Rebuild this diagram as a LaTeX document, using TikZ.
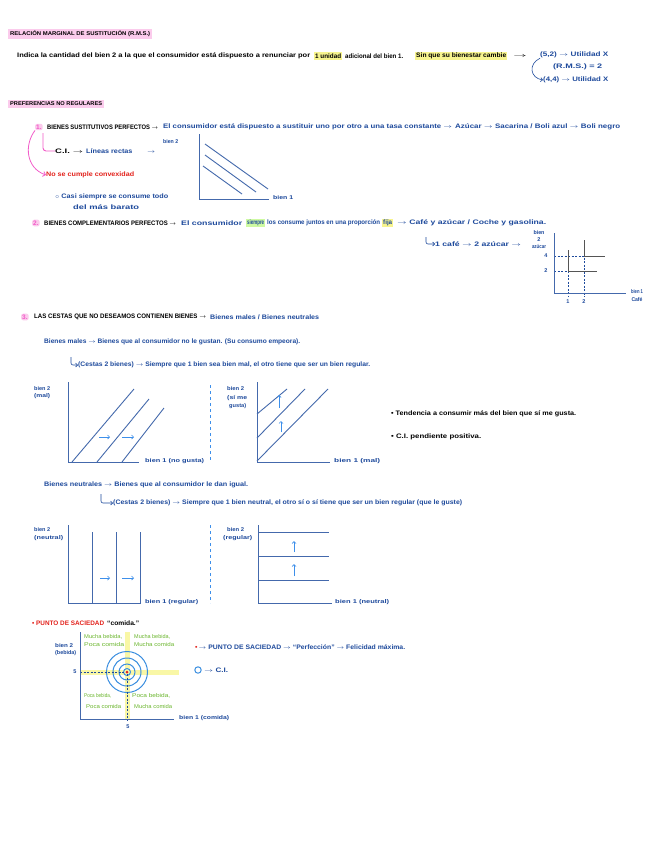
\documentclass[tikz,border=0pt]{standalone}
\usepackage{fontspec}
\setmainfont{Liberation Sans}
\usepackage{graphicx}
\usetikzlibrary{arrows.meta}
\definecolor{tblue}{HTML}{1E4A9C}
\definecolor{gblue}{HTML}{4469AC}
\definecolor{lblue}{HTML}{3D8FEA}
\definecolor{cblue}{HTML}{3A8EE0}
\definecolor{pinkm}{HTML}{F25CC9}
\definecolor{pinkhl}{HTML}{FBCBEC}
\definecolor{redt}{HTML}{E3221C}
\definecolor{greent}{HTML}{69B52B}
\definecolor{yelhl}{HTML}{F7F48E}
\definecolor{yelband}{HTML}{F9F7A6}
\definecolor{lgray}{HTML}{555555}
\newcommand\fw[2]{\resizebox{#1pt}{\height}{#2}}
\newcommand\ar{\ensuremath{\rightarrow}}
\newcommand\fsz{\fontsize{6.5}{7.5}\selectfont\bfseries}
\newcommand\hsz{\fontsize{5.5}{6.5}\selectfont\bfseries}
\newcommand\ssz{\fontsize{5.5}{6.5}\selectfont\bfseries}
\newcommand\gsz{\fontsize{5.5}{6.5}\selectfont}
\tikzset{
 tx/.style={anchor=west, inner sep=0pt, font=\fsz},
 bk/.style={tx, text=black},
 bl/.style={tx, text=tblue},
 rd/.style={tx, text=redt},
 gr/.style={tx, text=greent, font=\gsz},
 nm/.style={tx, text=pinkm, fill=pinkhl, rounded corners=2pt, inner sep=1pt},
 hlt/.style={fill=yelhl, inner xsep=1pt, inner ysep=1.2pt},
 hd/.style={tx, text=black, font=\hsz, fill=pinkhl, inner xsep=2pt, inner ysep=2pt},
 ax/.style={draw=gblue, line width=0.9pt},
 gl/.style={draw=gblue, line width=0.9pt},
 la/.style={draw=lblue, line width=0.7pt, -{Straight Barb[length=2pt]}},
 hookar/.style={draw=tblue, line width=0.6pt, rounded corners=2pt, -{Straight Barb[length=2pt]}},
 lab/.style={tx, font=\ssz, text=tblue},
 labc/.style={anchor=center, inner sep=0pt, font=\ssz, text=tblue},
 dsh/.style={draw=tblue, dashed, dash pattern=on 2pt off 1.5pt, line width=0.6pt},
 lsh/.style={draw=lgray, line width=1pt},
}
\begin{document}
\begin{tikzpicture}[x=1pt,y=-1pt]
\useasboundingbox (0,0) rectangle (656,848);
\fill[white] (0,0) rectangle (656,848);

% ---------- R.M.S.
\node[hd] (h1) at (8,34) {\fw{140}{RELACIÓN MARGINAL DE SUSTITUCIÓN (R.M.S.)}};
\node[bk] (l1a) at (17,56) {\fw{293}{Indica la cantidad del bien 2 a la que el consumidor está dispuesto a renunciar por}};
\node[bk, hlt] (l1b) at (314,56) {\fw{26}{1 unidad}};
\node[bk] (l1c) at (345,56) {\fw{58}{adicional del bien 1.}};
\node[bk, hlt] (l1d) at (415,56) {\fw{90}{Sin que su bienestar cambie}};
\node[bk] (l1e) at (513,56) {\fw{14}{\ar}};
\node[bl] (u1) at (540,55) {\fw{68}{(5,2) \ar{} Utilidad X}};
\node[bl] (u2) at (553,67) {\fw{49}{(R.M.S.) = 2}};
\node[bl] (u3) at (543,80) {\fw{65}{(4,4) \ar{} Utilidad X}};
\draw[tblue, line width=0.6pt, -{Straight Barb[length=2pt]}] (u1.south west) .. controls (528,64) and (530,78) .. (u3.west);

% ---------- Preferencias no regulares
\node[hd] (h2) at (8,104) {\fw{92}{PREFERENCIAS NO REGULARES}};

\node[nm] (n1) at (35,127) {1.};
\node[bk] (s1a) at (47,127) {\fw{111}{BIENES SUSTITUTIVOS PERFECTOS \ar}};
\node[bl] (s1b) at (163,127) {\fw{289}{El consumidor está dispuesto a sustituir uno por otro a una tasa constante \ar}};
\node[bl] (s1c) at (455,127) {\fw{165}{Azúcar \ar{} Sacarina / Boli azul \ar{} Boli negro}};
\node[bk] (ci) at (55,151) {\fw{28}{C.I. \ar}};
\node[bl] (ci2) at (86,151) {\fw{69}{Líneas rectas\qquad\ar}};
\coordinate (pk1) at (43,133);
\draw[pinkm, line width=0.9pt, rounded corners=3pt] (pk1) |- (ci.west);
\node[rd] (nc) at (46,175) {\fw{88}{No se cumple convexidad}};
\draw[pinkm, line width=0.8pt, -{Straight Barb[length=2.5pt]}] (n1.south west) .. controls (24,145) and (26,168) .. (nc.west);
\node[bl] (cs1) at (55,197) {\fw{113}{$\circ$ Casi siempre se consume todo}};
\node[bl] (cs2) at (73,207) {\fw{66}{del más barato}};

% graph 1
\node[lab] (g1y) at (163,142) {\fw{15}{bien 2}};
\node[lab] (g1x) at (273,198) {\fw{20}{bien 1}};
\draw[ax] (199,134) -- (199,199) -- (269,199);
\draw[gl] (205,144) -- (268,189);
\draw[gl] (205,155) -- (256,192);
\draw[gl] (203,166) -- (242,194);

% ---------- 2
\node[nm] (n2) at (32,223) {2.};
\node[bk] (s2a) at (44,223) {\fw{132}{BIENES COMPLEMENTARIOS PERFECTOS \ar}};
\node[bl] (s2b) at (181,223) {\fw{61}{El consumidor}};
\node[bl, hlt, fill=yelhl!70!green!60] (s2c) at (246,223) {\fw{17}{siempre}};
\node[bl] (s2d) at (267,223) {\fw{113}{los consume juntos en una proporción}};
\node[bl, hlt] (s2e) at (382,223) {\fw{9}{fija}};
\node[bl] (s2f) at (397,223) {\fw{149}{\ar{} Café y azúcar / Coche y gasolina.}};
\node[bl] (s2g) at (435,244) {\fw{86}{1 café \ar{} 2 azúcar \ar}};
\coordinate (hk2) at (426,237);
\draw[hookar] (hk2) |- (s2g.west);

% graph 2
\node[labc] (g2y1) at (539,233) {\fw{11}{bien}};
\node[labc] (g2y2) at (539,240) {2};
\node[labc] (g2y3) at (539,247) {\fw{14}{azúcar}};
\node[labc] (g2x1) at (637,292) {\fw{12}{bien 1}};
\node[labc] (g2x2) at (637,300) {\fw{11}{Café}};
\node[labc] (t4) at (546,256) {4};
\node[labc] (t2) at (546,271) {2};
\node[labc] (t1x) at (568,302) {1};
\node[labc] (t2x) at (584,302) {2};
\draw[dsh] (554,256) -- (584,256) -- (584,297);
\draw[dsh] (554,271) -- (568,271) -- (568,297);
\draw[lsh] (568,250) -- (568,271) -- (597,271);
\draw[lsh] (584,240) -- (584,256) -- (605,256);
\draw[ax] (554,233) -- (554,293) -- (626,293);

% ---------- 3
\node[nm] (n3) at (21,317) {3.};
\node[bk] (s3a) at (34,317) {\fw{172}{LAS CESTAS QUE NO DESEAMOS CONTIENEN BIENES \ar}};
\node[bl] (s3b) at (210,317) {\fw{109}{Bienes males / Bienes neutrales}};
\node[bl] (bm) at (44,342) {\fw{256}{Bienes males \ar{} Bienes que al consumidor no le gustan. (Su consumo empeora).}};
\node[bl] (bm2) at (78,365) {\fw{292}{(Cestas 2 bienes) \ar{} Siempre que 1 bien sea bien mal, el otro tiene que ser un bien regular.}};
\coordinate (hk3) at (71,357);
\draw[hookar] (hk3) |- (bm2.west);

% graphs row 1
\node[lab] (g3y1) at (34,389) {\fw{16}{bien 2}};
\node[lab] (g3y2) at (34,396) {\fw{16}{(mal)}};
\node[lab] (g3x) at (145,461) {\fw{59}{bien 1 (no gusta)}};
\draw[ax] (68,382) -- (68,462) -- (139,462);
\draw[gl] (72,462) -- (134,389);
\draw[gl] (97,462) -- (149,399);
\draw[gl] (122,462) -- (164,408);
\draw[la] (99,437) -- (110,437);
\draw[la] (122,437) -- (134,437);
\draw[lblue, dashed, line width=0.7pt] (210,385) -- (210,462);

\node[lab] (g4y1) at (227,389) {\fw{17}{bien 2}};
\node[lab] (g4y2) at (227,398) {\fw{20}{(sí me}};
\node[lab] (g4y3) at (229,406) {\fw{17}{gusta)}};
\node[lab] (g4x) at (334,461) {\fw{46}{bien 1 (mal)}};
\draw[ax] (257,382) -- (257,462) -- (330,462);
\draw[gl] (257,461) -- (328,389);
\draw[gl] (257,438) -- (305,389);
\draw[gl] (257,414) -- (287,389);
\draw[la] (279,408) -- (279,395);
\draw[la] (281,432) -- (281,421);

\node[bk] (b1) at (391,414) {\fw{185}{• Tendencia a consumir más del bien que sí me gusta.}};
\node[bk] (b2) at (391,437) {\fw{90}{• C.I. pendiente positiva.}};

% neutrales
\node[bl] (bn) at (44,485) {\fw{204}{Bienes neutrales \ar{} Bienes que al consumidor le dan igual.}};
\node[bl] (bn2) at (113,503) {\fw{349}{(Cestas 2 bienes) \ar{} Siempre que 1 bien neutral, el otro sí o sí tiene que ser un bien regular (que le guste)}};
\coordinate (hk4) at (101,494);
\draw[hookar] (hk4) |- (bn2.west);

% graphs row 2
\node[lab] (g5y1) at (34,530) {\fw{16}{bien 2}};
\node[lab] (g5y2) at (34,538) {\fw{29}{(neutral)}};
\node[lab] (g5x) at (145,602) {\fw{53}{bien 1 (regular)}};
\draw[ax] (68,525) -- (68,603) -- (141,603);
\draw[gl] (92,532) -- (92,603);
\draw[gl] (116,532) -- (116,603);
\draw[gl] (140,532) -- (140,603);
\draw[la] (100,578) -- (110,578);
\draw[la] (122,578) -- (134,578);
\draw[lblue, dashed, line width=0.7pt] (210,525) -- (210,603);

\node[lab] (g6y1) at (227,530) {\fw{17}{bien 2}};
\node[lab] (g6y2) at (223,538) {\fw{29}{(regular)}};
\node[lab] (g6x) at (335,602) {\fw{54}{bien 1 (neutral)}};
\draw[ax] (258,525) -- (258,603) -- (332,603);
\draw[gl] (258,532) -- (329,532);
\draw[gl] (258,556) -- (329,556);
\draw[gl] (258,580) -- (329,580);
\draw[la] (294,552) -- (294,541);
\draw[la] (294,576) -- (294,564);

% ---------- saciedad
\node[rd] (ps) at (32,623) {\fw{72}{• PUNTO DE SACIEDAD}};
\node[bk] (psc) at (107,623) {\fw{32}{“comida.”}};

\fill[yelband] (80,669.5) rectangle (179,674.5);
\fill[yelband] (124.5,632) rectangle (129.5,719);
\node[gr] (q1a) at (84,637) {\fw{38}{Mucha bebida,}};
\node[gr] (q1b) at (84,645) {\fw{40}{Poca comida}};
\node[gr] (q2a) at (134,637) {\fw{36}{Mucha bebida,}};
\node[gr] (q2b) at (134,645) {\fw{40}{Mucha comida}};
\node[gr] (q3a) at (84,696) {\fw{27}{Poca bebida,}};
\node[gr] (q3b) at (86,707) {\fw{35}{Poca comida}};
\node[gr] (q4a) at (132,696) {\fw{38}{Poca bebida,}};
\node[gr] (q4b) at (134,707) {\fw{38}{Mucha comida}};
\draw[cblue, line width=1pt] (127,672) circle (20.5);
\draw[cblue, line width=1pt] (127,672) circle (14);
\draw[cblue, line width=1pt] (127,672) circle (8);
\draw[cblue, line width=1pt] (127,672) circle (3.5);
\draw[dsh] (80,672) -- (127,672) -- (127,721);
\fill[redt] (127,672) circle (1.5);
\node[labc] (s5y) at (75,672) {5};
\node[labc] (s5x) at (128,727) {5};
\node[lab] (g7y1) at (55,646) {\fw{18}{bien 2}};
\node[lab] (g7y2) at (55,653) {\fw{21}{(bebida)}};
\node[lab] (g7x) at (179,718) {\fw{50}{bien 1 (comida)}};
\draw[ax] (80,632) -- (80,719) -- (174,719);

\node[bl] (ps2) at (195,647) {\fw{210}{\textcolor{redt}{•}\,\ar{} PUNTO DE SACIEDAD \ar{} “Perfección” \ar{} Felicidad máxima.}};
\draw[cblue, line width=1pt] (198,670) circle (3.2);
\node[bl] (cil) at (204,670) {\fw{24}{\ar{} C.I.}};
\end{tikzpicture}
\end{document}
